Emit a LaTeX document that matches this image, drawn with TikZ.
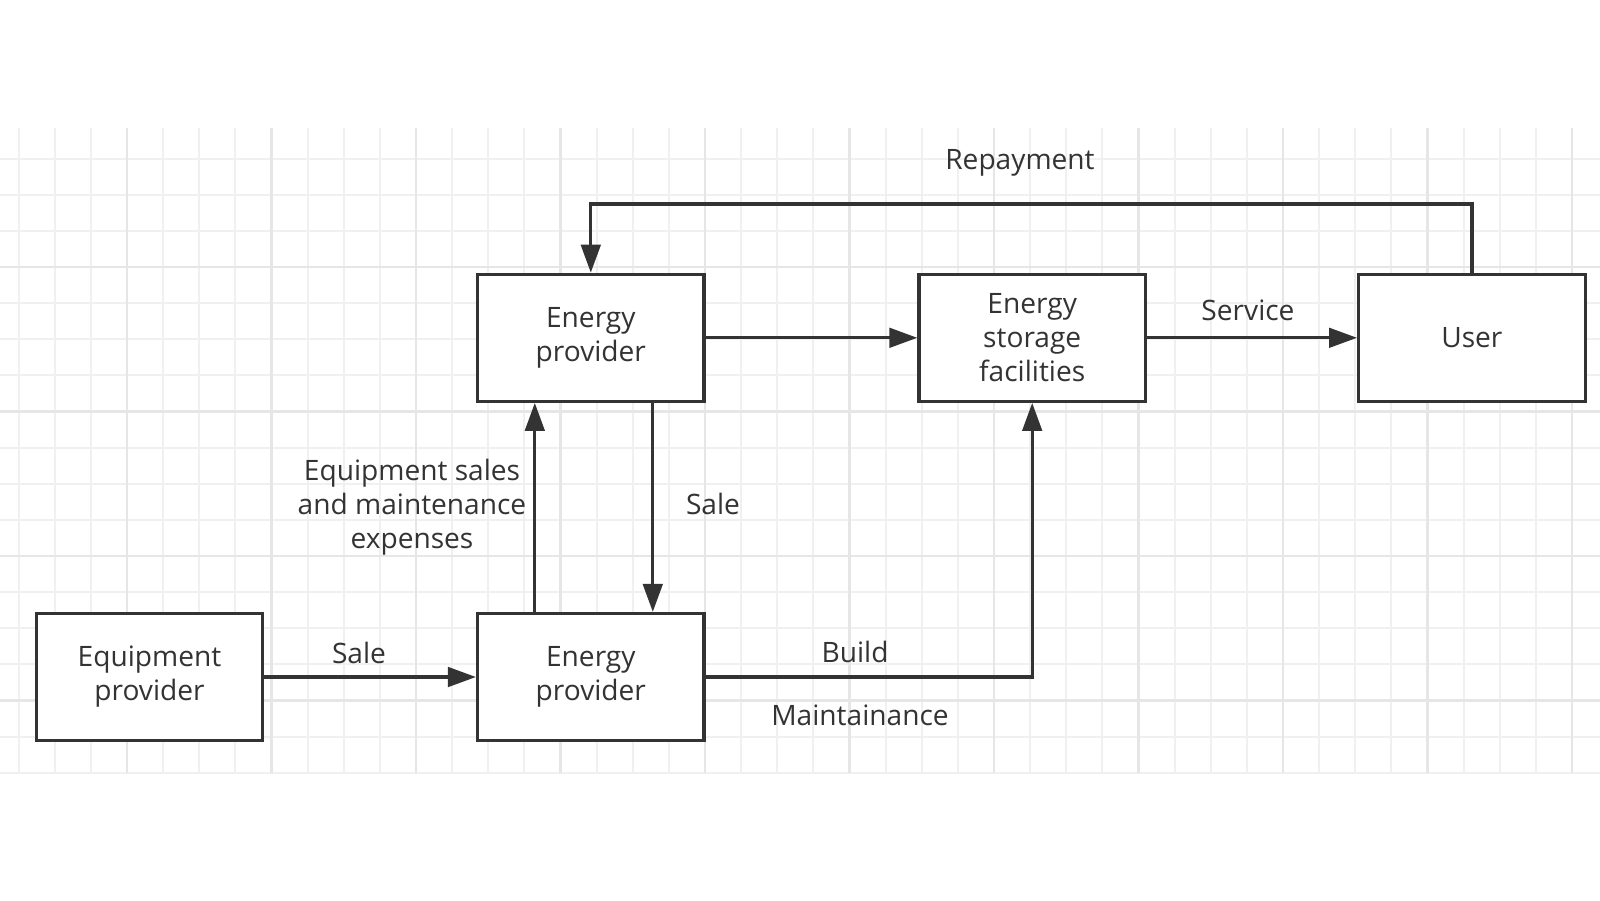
\documentclass[tikz,border=0pt]{standalone}
\usepackage{fontspec}
\setmainfont{Open Sans}
\usetikzlibrary{arrows.meta}
\definecolor{ink}{RGB}{51,51,51}
\definecolor{gridminor}{RGB}{240,240,240}
\definecolor{gridmajor}{RGB}{230,230,230}

\begin{document}
\begin{tikzpicture}[x=0.02cm, y=-0.02cm, text=ink,
        font=\fontsize{16}{19.35}\selectfont,
        >={Triangle[length=0.56cm, width=0.39cm]}]
            \useasboundingbox (0,0) rectangle (1600,900);

            % background grid
            \foreach \i in {-3,...,40}
                \draw[gridminor, line width=0.04cm] (127+36.125*\i,128) -- (127+36.125*\i,773);
            \foreach \j in {-3,...,14}
                \draw[gridminor, line width=0.04cm] (0,267+36.125*\j) -- (1600,267+36.125*\j);
            \foreach \i in {0,...,10}
                \draw[gridmajor, line width=0.05cm] (127+144.5*\i,128) -- (127+144.5*\i,773);
            \foreach \j in {0,...,3}
                \draw[gridmajor, line width=0.05cm] (0,267+144.5*\j) -- (1600,267+144.5*\j);

            \begin{scope}[every node/.style={rectangle, draw=ink, line width=0.065cm, fill=white,
                          minimum width=4.53cm, minimum height=2.54cm, align=center, inner sep=0pt}]
                \node (EqP) at (149.5, 677) {Equipment\\provider};
                \node (EPb) at (590.8, 677) {Energy\\provider};
                \node (EPt) at (590.8, 337.8) {Energy\\provider};
                \node (ESF) at (1032.2, 337.8) {Energy\\storage\\facilities};
                \node (U) at (1471.9, 337.8) {User};
            \end{scope}

            \coordinate (rep) at (1020, 204);

            \begin{scope}[every edge/.style={draw=ink, line width=0.065cm}]
                \path [->] (EqP) edge (EPb);
                \path [->] (EPt) edge (ESF);
                \path [->] (ESF) edge (U);
                \path [->] ([xshift=-1.12cm]EPb.north) edge ([xshift=-1.12cm]EPt.south);
                \path [->] ([xshift=1.24cm]EPt.south) edge ([xshift=1.24cm]EPb.north);
            \end{scope}
            \draw [->, ink, line width=0.065cm] (U.north) |- (rep) -| (EPt.north);
            \draw [->, ink, line width=0.065cm] (EPb.east) -| (ESF.south);

            \begin{scope}[every node/.style={anchor=base, inner sep=0pt}]
                \node (lRepay) at (1020, 169) {Repayment};
                \node (lService) at (1248, 320) {Service};
                \node (lSaleA) at (359, 663) {Sale};
                \node (lSaleB) at (713, 514) {Sale};
                \node (lBuild) at (855, 662.5) {Build};
                \node (lMaint) at (860, 725) {Maintainance};
                \node (lExp) [anchor=center, align=center] at (412, 507) {Equipment sales\\and maintenance\\expenses};
            \end{scope}
\end{tikzpicture}
\end{document}
